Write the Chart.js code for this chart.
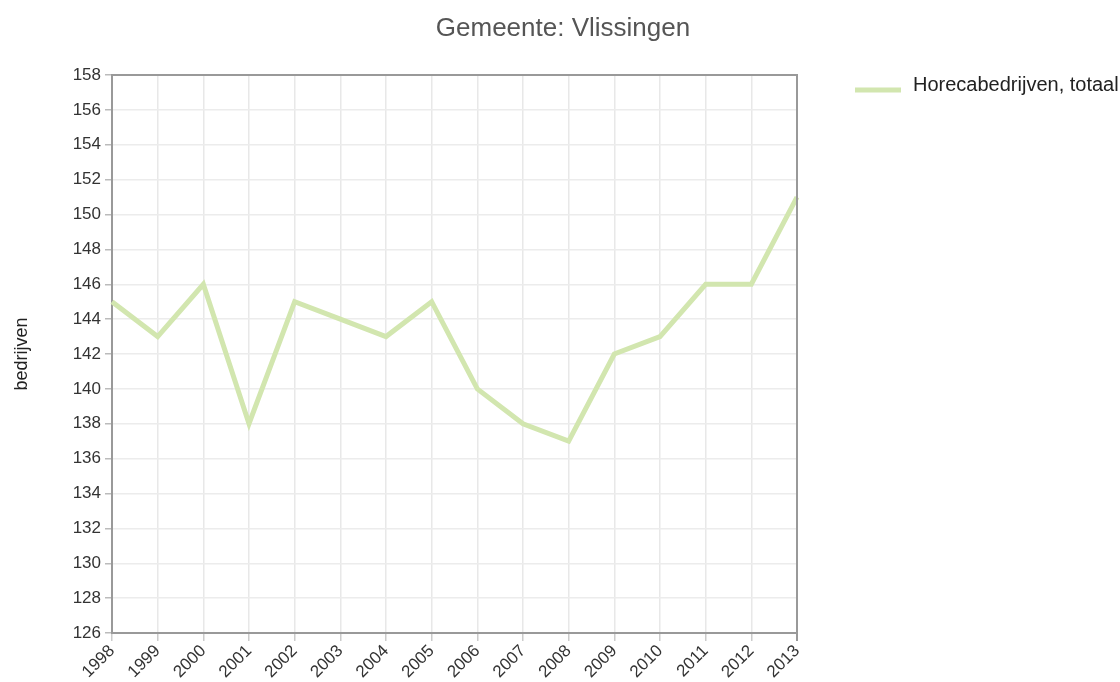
<!DOCTYPE html>
<html>
<head>
<meta charset="utf-8">
<script src="https://cdn.jsdelivr.net/npm/chart.js@4/dist/chart.umd.min.js"></script>
<style>
html,body{margin:0;padding:0;background:#fff;}
#wrap{width:1120px;height:682px;}
</style>
</head>
<body>
<div id="wrap"><canvas id="c" width="1120" height="682"></canvas></div>
<script>
const titleText = "Gemeente: Vlissingen";
const seriesLabel = "Horecabedrijven, totaal";
const yAxisTitle = "bedrijven";
const years = ["1998","1999","2000","2001","2002","2003","2004","2005","2006","2007","2008","2009","2010","2011","2012","2013"];
const values = [145,143,146,138,145,144,143,145,140,138,137,142,143,146,146,151];
const yMin = 126, yMax = 158, yStep = 2;

const FONT = "'Liberation Sans', Arial, sans-serif";
const lineColor = '#d2e6af';

const decor = {
  id: 'decor',
  beforeDraw(chart) {
    const ctx = chart.ctx;
    ctx.save();
    ctx.fillStyle = '#fff';
    ctx.fillRect(0, 0, chart.width, chart.height);
    ctx.restore();
  },
  afterDraw(chart) {
    const ctx = chart.ctx;
    const a = chart.chartArea;
    ctx.save();
    // frame top/right
    ctx.strokeStyle = '#999';
    ctx.lineWidth = 2;
    ctx.beginPath();
    ctx.moveTo(a.left, a.top);
    ctx.lineTo(a.right, a.top);
    ctx.lineTo(a.right, a.bottom + 8);
    ctx.stroke();
    // title
    ctx.fillStyle = '#555';
    ctx.font = "26px " + FONT;
    ctx.textAlign = 'center';
    ctx.textBaseline = 'middle';
    ctx.fillText(titleText, 563, 29);
    // legend
    ctx.strokeStyle = lineColor;
    ctx.lineWidth = 5;
    ctx.beginPath();
    ctx.moveTo(855, 90);
    ctx.lineTo(901, 90);
    ctx.stroke();
    ctx.fillStyle = '#222';
    ctx.font = "20px " + FONT;
    ctx.textAlign = 'left';
    ctx.fillText(chart.data.datasets[0].label, 913, 85);
    ctx.restore();
  }
};

new Chart(document.getElementById('c'), {
  type: 'line',
  data: {
    labels: years,
    datasets: [{
      label: seriesLabel,
      data: values,
      borderColor: lineColor,
      backgroundColor: lineColor,
      borderWidth: 5,
      pointRadius: 0,
      tension: 0,
      fill: false
    }]
  },
  options: {
    responsive: false,
    animation: false,
    layout: { padding: { left: 0, right: 323, top: 75, bottom: 0 } },
    plugins: { legend: { display: false }, title: { display: false }, tooltip: { enabled: false } },
    scales: {
      x: {
        offset: false,
        grid: { color: '#e8e8e8', lineWidth: 1.5, tickColor: '#ccc', tickLength: 8, drawTicks: true },
        border: { color: '#999', width: 2 },
        ticks: { color: '#333', font: { family: FONT, size: 17 }, maxRotation: 45, minRotation: 45, padding: 0, autoSkip: false },
        afterFit(s) { s.height = 49; }
      },
      y: {
        min: yMin, max: yMax,
        grid: { color: '#ececec', lineWidth: 1.5, tickColor: '#bbb', tickLength: 7 },
        border: { color: '#999', width: 2 },
        ticks: { stepSize: yStep, color: '#333', font: { family: FONT, size: 17 }, padding: 4 },
        title: { display: true, text: yAxisTitle, color: '#222', font: { family: FONT, size: 18 }, padding: { top: 11, bottom: 0 } },
        afterFit(s) { s.width = 112; }
      }
    }
  },
  plugins: [decor]
});
</script>
</body>
</html>
